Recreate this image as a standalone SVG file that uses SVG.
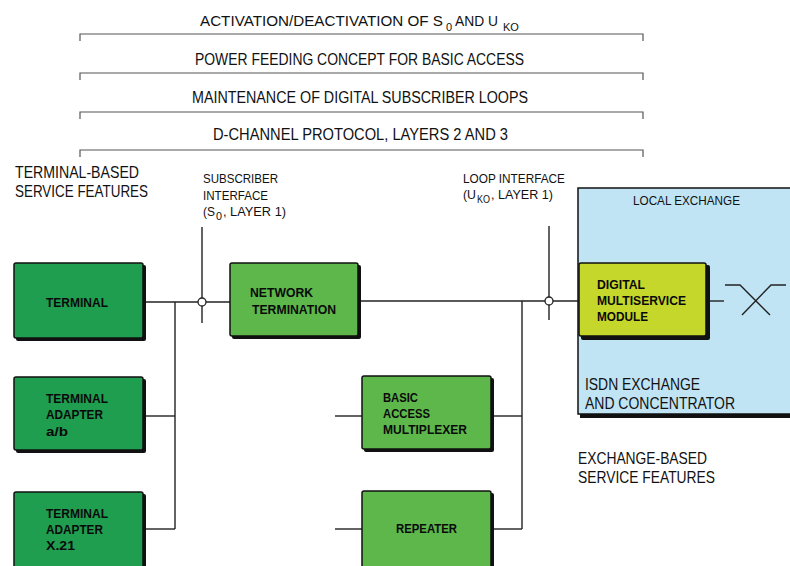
<svg xmlns="http://www.w3.org/2000/svg" width="790" height="566" viewBox="0 0 790 566">
<style>
.t{font-family:"Liberation Sans",Arial,sans-serif;fill:#111}
.top{font-size:16px}
.top15{font-size:15px}
.lbl{font-size:13px}
.sub{font-size:10px}
.big{font-size:16.5px}
.b{font-family:"Liberation Sans",Arial,sans-serif;font-weight:bold;font-size:13.5px;fill:#0a0a0a}
.sh{fill:#111}
.dk{fill:#1f9e50;stroke:#111;stroke-width:1.5}
.lt{fill:#5db74a;stroke:#111;stroke-width:1.5}
.yl{fill:#c6d72b;stroke:#111;stroke-width:1.5}
.ln{fill:none;stroke:#222;stroke-width:1.4}
.br{fill:none;stroke:#555;stroke-width:1.2}
.ci{fill:#fff;stroke:#222;stroke-width:1.3}
</style>
<rect width="790" height="566" fill="#fff"/>

<g id="brackets">
<path class="br" d="M80,41 V34 H643 V41"/>
<path class="br" d="M80,80 V73 H643 V80"/>
<path class="br" d="M80,119 V112 H643 V119"/>
<path class="br" d="M80,157 V150 H643 V157"/>
<text class="t top15" x="200" y="26" textLength="243" lengthAdjust="spacingAndGlyphs">ACTIVATION/DEACTIVATION OF S</text>
<text class="t" font-size="11" x="446" y="31">0</text>
<text class="t top15" x="455" y="26" textLength="43" lengthAdjust="spacingAndGlyphs">AND U</text>
<text class="t" font-size="11" x="503" y="31">KO</text>
<text class="t top" x="195" y="65" textLength="329" lengthAdjust="spacingAndGlyphs">POWER FEEDING CONCEPT FOR BASIC ACCESS</text>
<text class="t top" x="192" y="103" textLength="336" lengthAdjust="spacingAndGlyphs">MAINTENANCE OF DIGITAL SUBSCRIBER LOOPS</text>
<text class="t top" x="213" y="140" textLength="295" lengthAdjust="spacingAndGlyphs">D-CHANNEL PROTOCOL, LAYERS 2 AND 3</text>
</g>

<g id="labels">
<text class="t big" x="15" y="178" textLength="124" lengthAdjust="spacingAndGlyphs">TERMINAL-BASED</text>
<text class="t big" x="15" y="197" textLength="133" lengthAdjust="spacingAndGlyphs">SERVICE FEATURES</text>
<text class="t lbl" x="203" y="183" textLength="75" lengthAdjust="spacingAndGlyphs">SUBSCRIBER</text>
<text class="t lbl" x="203" y="200" textLength="65" lengthAdjust="spacingAndGlyphs">INTERFACE</text>
<text class="t lbl" x="203" y="216" textLength="12" lengthAdjust="spacingAndGlyphs">(S</text>
<text class="t sub" x="216" y="220" textLength="6" lengthAdjust="spacingAndGlyphs">0</text>
<text class="t lbl" x="223" y="216" textLength="63" lengthAdjust="spacingAndGlyphs">, LAYER 1)</text>
<text class="t lbl" x="463" y="183" textLength="102" lengthAdjust="spacingAndGlyphs">LOOP INTERFACE</text>
<text class="t lbl" x="463" y="199" textLength="13" lengthAdjust="spacingAndGlyphs">(U</text>
<text class="t sub" x="477" y="203" textLength="13" lengthAdjust="spacingAndGlyphs">KO</text>
<text class="t lbl" x="491" y="199" textLength="62" lengthAdjust="spacingAndGlyphs">, LAYER 1)</text>
<text class="t big" x="578" y="464" textLength="129" lengthAdjust="spacingAndGlyphs">EXCHANGE-BASED</text>
<text class="t big" x="578" y="483" textLength="137" lengthAdjust="spacingAndGlyphs">SERVICE FEATURES</text>
</g>

<g id="local-exchange">
<rect class="sh" x="580" y="190" width="220" height="228"/>
<rect x="578" y="188" width="220" height="226" fill="#c0e4f4" stroke="#111" stroke-width="1.5"/>
<text class="t lbl" x="633" y="205" textLength="107" lengthAdjust="spacingAndGlyphs">LOCAL EXCHANGE</text>
<text class="t big" x="585" y="390" textLength="115" lengthAdjust="spacingAndGlyphs">ISDN EXCHANGE</text>
<text class="t big" x="585" y="408.5" textLength="150" lengthAdjust="spacingAndGlyphs">AND CONCENTRATOR</text>
</g>

<g id="connectors">
<line class="ln" x1="145" y1="302" x2="230" y2="302"/>
<line class="ln" x1="202" y1="227" x2="202" y2="323"/>
<line class="ln" x1="175" y1="302" x2="175" y2="529"/>
<line class="ln" x1="145" y1="416" x2="175" y2="416"/>
<line class="ln" x1="145" y1="529" x2="175" y2="529"/>
<line class="ln" x1="360" y1="301" x2="579" y2="301"/>
<line class="ln" x1="549" y1="226" x2="549" y2="320"/>
<line class="ln" x1="522" y1="301" x2="522" y2="529"/>
<line class="ln" x1="493" y1="416" x2="522" y2="416"/>
<line class="ln" x1="493" y1="529" x2="522" y2="529"/>
<line class="ln" x1="335" y1="416" x2="362" y2="416"/>
<line class="ln" x1="335" y1="529" x2="362" y2="529"/>
<line class="ln" x1="708" y1="301" x2="724" y2="301"/>
<path class="ln" d="M725,285 H740 L770,315 M742,315 L771,285 H786"/>
<circle class="ci" cx="202" cy="302" r="4"/>
<circle class="ci" cx="549" cy="301" r="4"/>
</g>

<g id="terminal">
<rect class="sh" x="16" y="265" width="130" height="76" rx="2"/>
<rect class="dk" x="14" y="263" width="129" height="75" rx="2"/>
<text class="b" x="46" y="307" textLength="62" lengthAdjust="spacingAndGlyphs">TERMINAL</text>
</g>

<g id="terminal-adapter-ab">
<rect class="sh" x="16" y="379" width="130" height="74" rx="2"/>
<rect class="dk" x="14" y="377" width="129" height="73" rx="2"/>
<text class="b" x="46" y="403" textLength="62" lengthAdjust="spacingAndGlyphs">TERMINAL</text>
<text class="b" x="46" y="419" textLength="57" lengthAdjust="spacingAndGlyphs">ADAPTER</text>
<text class="b" x="46" y="436" textLength="22" lengthAdjust="spacingAndGlyphs">a/b</text>
</g>

<g id="terminal-adapter-x21">
<rect class="sh" x="16" y="494" width="130" height="80" rx="2"/>
<rect class="dk" x="14" y="492" width="129" height="80" rx="2"/>
<text class="b" x="46" y="518" textLength="62" lengthAdjust="spacingAndGlyphs">TERMINAL</text>
<text class="b" x="46" y="534" textLength="57" lengthAdjust="spacingAndGlyphs">ADAPTER</text>
<text class="b" x="46" y="550" textLength="29" lengthAdjust="spacingAndGlyphs">X.21</text>
</g>

<g id="network-termination">
<rect class="sh" x="232" y="265" width="129" height="74" rx="2"/>
<rect class="lt" x="230" y="263" width="128" height="73" rx="2"/>
<text class="b" x="250" y="297" textLength="63" lengthAdjust="spacingAndGlyphs">NETWORK</text>
<text class="b" x="252" y="314" textLength="84" lengthAdjust="spacingAndGlyphs">TERMINATION</text>
</g>

<g id="basic-access-multiplexer">
<rect class="sh" x="364" y="378" width="130" height="74" rx="2"/>
<rect class="lt" x="362" y="376" width="129" height="73" rx="2"/>
<text class="b" x="383" y="402" textLength="35" lengthAdjust="spacingAndGlyphs">BASIC</text>
<text class="b" x="383" y="418" textLength="47" lengthAdjust="spacingAndGlyphs">ACCESS</text>
<text class="b" x="383" y="434" textLength="84" lengthAdjust="spacingAndGlyphs">MULTIPLEXER</text>
</g>

<g id="repeater">
<rect class="sh" x="364" y="493" width="130" height="80" rx="2"/>
<rect class="lt" x="362" y="491" width="129" height="80" rx="2"/>
<text class="b" x="396" y="533" textLength="61" lengthAdjust="spacingAndGlyphs">REPEATER</text>
</g>

<g id="digital-multiservice-module">
<rect class="sh" x="581" y="265" width="129" height="75" rx="2"/>
<rect class="yl" x="579" y="263" width="127" height="73" rx="2"/>
<text class="b" x="597" y="289" textLength="48" lengthAdjust="spacingAndGlyphs">DIGITAL</text>
<text class="b" x="597" y="305" textLength="89" lengthAdjust="spacingAndGlyphs">MULTISERVICE</text>
<text class="b" x="597" y="321" textLength="51" lengthAdjust="spacingAndGlyphs">MODULE</text>
</g>
</svg>
